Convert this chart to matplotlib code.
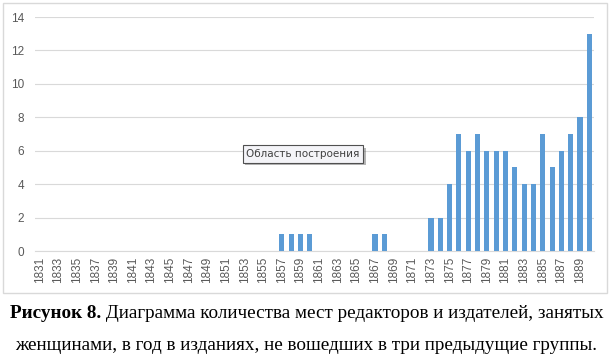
import matplotlib
matplotlib.use('Agg')
import matplotlib.pyplot as plt
from matplotlib.patches import Rectangle
import matplotlib.patheffects as pe

# данные: годы и количество мест
years = list(range(1831, 1891))
counts = [0] * 26 + [1, 1, 1, 1] + [0] * 6 + [1, 1] + [0] * 4 + \
         [2, 2, 4, 7, 6, 7, 6, 6, 6, 5, 4, 4, 7, 5, 6, 7, 8, 13]
tick_years = [y for y in years if (y - 1831) % 2 == 0]
y_ticks = [0, 2, 4, 6, 8, 10, 12, 14]

caption_bold = 'Рисунок 8.'
caption_rest = ' Диаграмма количества мест редакторов и издателей, занятых'
caption_line2 = 'женщинами, в год в изданиях, не вошедших в три предыдущие группы.'

fig = plt.figure(figsize=(6.13, 3.62), dpi=100)

# рамка диаграммы
fig.patches.append(Rectangle((3 / 613, 1 - 293 / 362), 604 / 613, 290 / 362,
                             transform=fig.transFigure, fill=False,
                             edgecolor='#D9D9D9', linewidth=1))

ax = fig.add_axes([35 / 613, 1 - 251 / 362, 559 / 613, 234 / 362])
ax.bar(years, counts, width=0.55, color='#5B9BD5', zorder=3)
ax.set_xlim(years[0] - 0.5, years[-1] + 0.5)
ax.set_ylim(0, 14)
ax.set_yticks(y_ticks)
ax.set_xticks(tick_years)
ax.set_xticklabels([str(y) for y in tick_years], rotation=90)
ax.grid(axis='y', color='#D9D9D9', linewidth=0.8, zorder=0)
for s in ['top', 'right', 'left']:
    ax.spines[s].set_visible(False)
ax.spines['bottom'].set_color('#D9D9D9')
ax.tick_params(axis='both', length=0, colors='#595959', labelsize=8.5)
ax.tick_params(axis='x', pad=4)
ax.tick_params(axis='y', pad=8)
for lab in ax.get_xticklabels() + ax.get_yticklabels():
    lab.set_family('Liberation Sans')

# подсказка Excel
tip = fig.text(303 / 613, 1 - 154 / 362, 'Область построения', ha='center', va='center',
               fontsize=7.5, color='#404040', family='DejaVu Sans',
               bbox=dict(boxstyle='square,pad=0.35', fc='#F4F4F8', ec='#505050', lw=0.8))
tip.get_bbox_patch().set_path_effects([pe.SimplePatchShadow(offset=(2, -2), alpha=0.4), pe.Normal()])

# подпись
fs = 13.8
rend = fig.canvas.get_renderer()
tb = fig.text(0, 1 - 313 / 362, caption_bold, ha='left', va='center',
              fontsize=fs, family='Liberation Serif', weight='bold')
tr = fig.text(0, 1 - 313 / 362, caption_rest, ha='left', va='center',
              fontsize=fs, family='Liberation Serif')
wb = tb.get_window_extent(renderer=rend).width
wr = tr.get_window_extent(renderer=rend).width
x0 = (fig.bbox.width - wb - wr) / 2
tb.set_x(x0 / fig.bbox.width)
tr.set_x((x0 + wb) / fig.bbox.width)
fig.text(0.5, 1 - 346 / 362, caption_line2, ha='center', va='center',
         fontsize=fs, family='Liberation Serif')

fig.savefig('out.png', dpi=100)
